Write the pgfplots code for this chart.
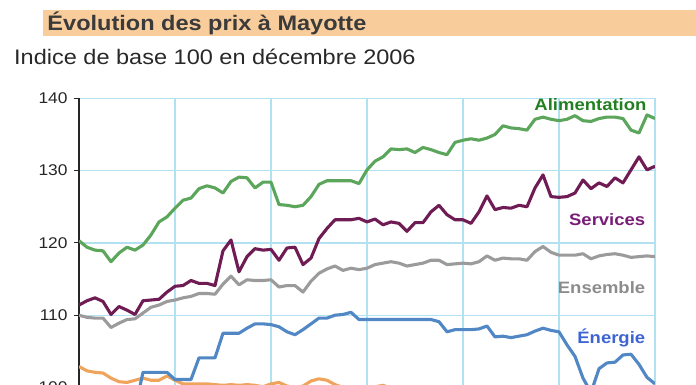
\documentclass[border=0pt]{standalone}
\usepackage{fontspec}
\setmainfont{Liberation Sans}[FakeStretch=1.12]
\usepackage{pgfplots}
\usepackage{pgfplotstable}
\pgfplotsset{compat=1.18}
\definecolor{titlebg}{RGB}{249,204,156}
\definecolor{titletext}{RGB}{58,58,58}
\definecolor{subtext}{RGB}{40,40,40}
\definecolor{gridblue}{RGB}{178,226,242}
\definecolor{alimline}{RGB}{92,166,92}
\definecolor{alimtext}{RGB}{34,128,34}
\definecolor{servline}{RGB}{112,28,84}
\definecolor{servtext}{RGB}{120,30,120}
\definecolor{ensline}{RGB}{155,155,155}
\definecolor{enstext}{RGB}{140,140,140}
\definecolor{enerline}{RGB}{80,135,196}
\definecolor{enertext}{RGB}{60,100,210}
\definecolor{orangeline}{RGB}{240,163,90}

\pgfplotstableread{
m alim serv ens ener autre
0 120.3 111.4 110.0 97.0 102.9
1 119.4 112.0 109.7 97.0 102.3
2 119.0 112.4 109.6 97.0 102.1
3 118.9 111.9 109.6 97.0 102.0
4 117.4 110.1 108.3 97.0 101.3
5 118.6 111.2 108.9 97.0 100.8
6 119.4 110.7 109.4 97.0 100.7
7 119.0 110.1 109.5 97.0 101.0
8 119.7 112.0 110.3 102.1 101.3
9 121.1 112.1 111.1 102.1 101.0
10 122.9 112.2 111.4 102.1 101.0
11 123.6 113.2 111.9 102.1 101.6
12 124.8 114.0 112.1 101.1 101.0
13 125.9 114.1 112.4 101.1 100.5
14 126.2 114.8 112.6 101.1 100.5
15 127.5 114.4 113.0 104.1 100.5
16 127.9 114.4 113.0 104.1 100.5
17 127.6 114.1 112.9 104.1 100.4
18 126.9 118.9 114.3 107.5 100.3
19 128.5 120.4 115.4 107.5 100.4
20 129.1 116.0 114.2 107.5 100.3
21 129.0 118.1 114.9 108.2 100.4
22 127.6 119.2 114.8 108.8 100.3
23 128.4 119.0 114.8 108.8 100.1
24 128.4 119.1 114.9 108.7 100.5
25 125.3 117.6 113.9 108.4 100.7
26 125.2 119.3 114.1 107.7 100.2
27 125.0 119.4 114.1 107.3 100.0
28 125.2 117.0 113.2 108.0 100.2
29 126.4 117.9 114.7 108.8 100.9
30 128.1 120.6 115.8 109.6 101.2
31 128.6 122.0 116.4 109.6 101.0
32 128.6 123.2 116.8 110.0 100.4
33 128.6 123.2 116.2 110.1 100.0
34 128.6 123.2 116.5 110.4 99.8
35 128.2 123.4 116.3 109.4 99.9
36 130.1 122.9 116.5 109.4 100.0
37 131.3 123.3 117.0 109.4 100.1
38 131.9 122.5 117.2 109.4 100.3
39 133.0 122.9 117.4 109.4 99.9
40 132.9 122.7 117.2 109.4 99.6
41 133.0 121.6 116.8 109.4 99.5
42 132.5 122.8 117.0 109.4 99.6
43 133.2 122.8 117.2 109.4 99.4
44 132.9 124.3 117.6 109.4 99.5
45 132.5 125.2 117.6 109.1 99.3
46 132.2 123.9 117.0 107.7 99.2
47 133.9 123.2 117.1 108.0 99.4
48 134.2 123.2 117.2 108.0 99.3
49 134.4 122.7 117.1 108.0 99.2
50 134.2 124.3 117.4 108.1 99.4
51 134.5 126.5 118.2 108.5 99.3
52 135.0 124.6 117.6 107.0 99.1
53 136.2 124.9 117.9 107.1 99.2
54 135.9 124.8 117.8 106.9 99.0
55 135.8 125.2 117.8 107.1 99.1
56 135.6 125.0 117.6 107.3 99.2
57 137.1 127.6 118.8 107.8 99.0
58 137.4 129.4 119.5 108.2 98.9
59 137.1 126.4 118.7 107.9 99.0
60 136.9 126.3 118.3 107.7 99.1
61 137.1 126.4 118.3 105.9 98.9
62 137.6 126.9 118.3 104.3 98.8
63 136.9 128.7 118.5 101.3 98.9
64 136.8 127.5 117.8 99.3 98.7
65 137.2 128.3 118.2 102.6 98.8
66 137.4 127.8 118.4 103.4 98.9
67 137.4 129.0 118.5 103.5 98.8
68 137.2 128.3 118.3 104.5 98.7
69 135.6 130.1 118.0 104.6 98.8
70 135.2 131.9 118.1 103.2 98.9
71 137.7 130.1 118.2 101.4 98.8
72 137.2 130.6 118.1 100.5 98.9
}\datatable

\begin{document}
\begin{tikzpicture}[x=1pt,y=1pt]
\begin{axis}[
  scale only axis, width=576pt, height=325.35pt,
  xmin=0, xmax=72, ymin=95, ymax=140,
  axis lines*=left,
  axis line style={black!85, line width=1.2pt},
  xtick={0,12,...,72}, xticklabel=\empty,
  x tick style={draw=none},
  ytick={100,110,120,130,140},
  y tick style={black!85, line width=1pt},
  tick align=outside, major tick length=5pt,
  /pgf/number format/assume math mode=true,
  yticklabel style={font=\fontsize{15.5}{15.5}\selectfont, text=black!85, xshift=-3pt},
  grid=major, grid style={color=gridblue, line width=1.3pt},
  every axis plot/.append style={line width=3.1pt, line join=round, no markers},
  clip mode=individual,
]
\coordinate (A) at (rel axis cs:0,0);
\addplot[orangeline] table[x=m, y=autre] {\datatable};
\addplot[enerline] table[x=m, y=ener] {\datatable};
\addplot[ensline] table[x=m, y=ens] {\datatable};
\addplot[servline] table[x=m, y=serv] {\datatable};
\addplot[alimline] table[x=m, y=alim] {\datatable};
\node[anchor=base east, inner sep=0, text=alimtext, font=\fontsize{16.5}{16.5}\selectfont\bfseries] at (axis cs:70.95,138.28) {Alimentation};
\node[anchor=base east, inner sep=0, text=servtext, font=\fontsize{16.5}{16.5}\selectfont\bfseries] at (axis cs:70.8,122.38) {Services};
\node[anchor=base east, inner sep=0, text=enstext, font=\fontsize{16.5}{16.5}\selectfont\bfseries] at (axis cs:70.8,113.03) {Ensemble};
\node[anchor=base east, inner sep=0, text=enertext, font=\fontsize{16.5}{16.5}\selectfont\bfseries] at (axis cs:70.8,106.11) {Énergie};
\end{axis}
\begin{scope}[shift={(A)}]
\fill[titlebg] (-36.3,387.65) rectangle (617,413.65);
\node[anchor=base west, inner sep=0, text=titletext, font=\fontsize{21}{21}\selectfont\bfseries] at (-31.7,392.95) {Évolution des prix à Mayotte};
\node[anchor=base west, inner sep=0, text=subtext, font=\fontsize{21}{21}\selectfont] at (-65,359.35) {Indice de base 100 en décembre 2006};
\end{scope}
\pgfresetboundingbox
\path[use as bounding box, shift={(A)}] (-79,38.65) rectangle (617,423.65);
\end{tikzpicture}
\end{document}
